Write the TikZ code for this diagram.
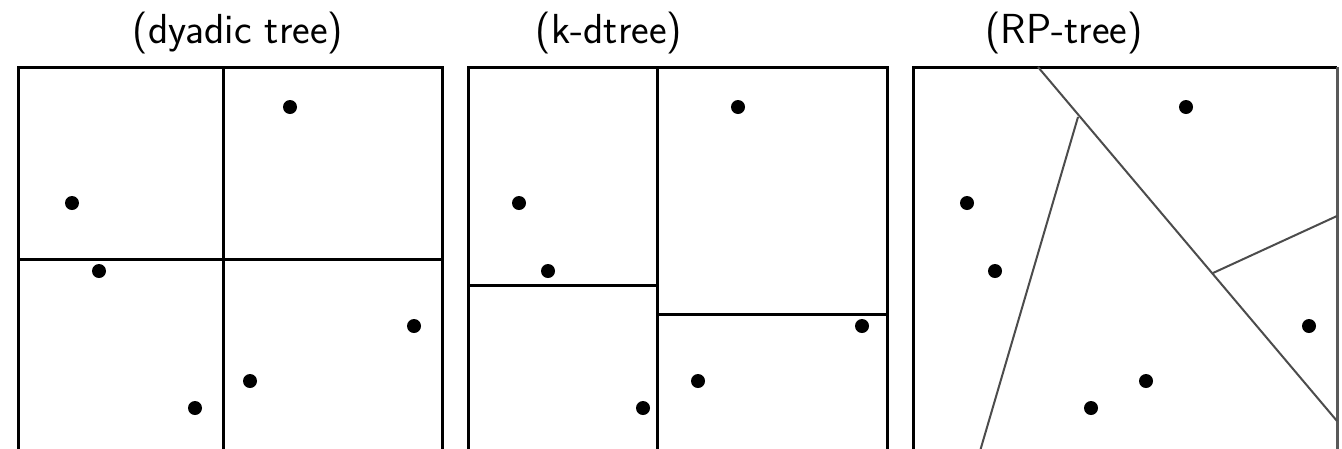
\documentclass[tikz,border=0pt]{standalone}
\begin{document}
\begin{tikzpicture}[x=1pt,y=-1pt,
  box/.style={line width=3pt,line join=miter},
  cut/.style={draw=black!70,line width=2pt},
  edge/.style={draw=black!65,line width=3pt},
  dot/.style={circle,fill=black,inner sep=0pt,minimum size=14pt},
  lbl/.style={font=\sffamily\fontsize{42}{50}\selectfont,anchor=base,inner sep=0pt}]
\useasboundingbox (0,0) rectangle (1342,448);
\clip (0,0) rectangle (1342,448);

% titles
\node[lbl] (t1) at (238,43) {(dyadic tree)};
\node[lbl] (t2) at (609,43) {(k-dtree)};
\node[lbl] (t3) at (1064,43) {(RP-tree)};

% panel 1: dyadic tree
\draw[box] (18,470) -- (18,67) -- (442,67) -- (442,470);
\coordinate (d1t) at (223,67); \coordinate (d1b) at (223,470);
\coordinate (d1l) at (18,259); \coordinate (d1r) at (442,259);
\draw[box] (d1t) -- (d1b);
\draw[box] (d1l) -- (d1r);
\node[dot] (a1) at (290,107) {};
\node[dot] (a2) at (72,203) {};
\node[dot] (a3) at (99,271) {};
\node[dot] (a4) at (414,326) {};
\node[dot] (a5) at (250,381) {};
\node[dot] (a6) at (195,408) {};

% panel 2: k-d tree
\draw[box] (468,470) -- (468,67) -- (887,67) -- (887,470);
\coordinate (k1t) at (657,67); \coordinate (k1b) at (657,470);
\coordinate (k2l) at (468,285); \coordinate (k2r) at (657,285);
\coordinate (k3l) at (657,314); \coordinate (k3r) at (887,314);
\draw[box] (k1t) -- (k1b);
\draw[box] (k2l) -- (k2r);
\draw[box] (k3l) -- (k3r);
\node[dot] (b1) at (738,107) {};
\node[dot] (b2) at (519,203) {};
\node[dot] (b3) at (548,271) {};
\node[dot] (b4) at (862,326) {};
\node[dot] (b5) at (698,381) {};
\node[dot] (b6) at (643,408) {};

% panel 3: RP tree
\draw[box] (913,470) -- (913,67) -- (1337,67);
\draw[edge] (1337,67) -- (1337,470);
\coordinate (r1) at (1038,67);
\coordinate (r2) at (1337,421);
\coordinate (r3) at (1078,117);
\coordinate (r4) at (978,458);
\coordinate (r5) at (1213,273);
\coordinate (r6) at (1337,216);
\draw[cut] (r1) -- (r2);
\draw[cut] (r3) -- (r4);
\draw[cut] (r5) -- (r6);
\node[dot] (c1) at (1186,107) {};
\node[dot] (c2) at (967,203) {};
\node[dot] (c3) at (995,271) {};
\node[dot] (c4) at (1309,326) {};
\node[dot] (c5) at (1146,381) {};
\node[dot] (c6) at (1091,408) {};
\end{tikzpicture}
\end{document}
